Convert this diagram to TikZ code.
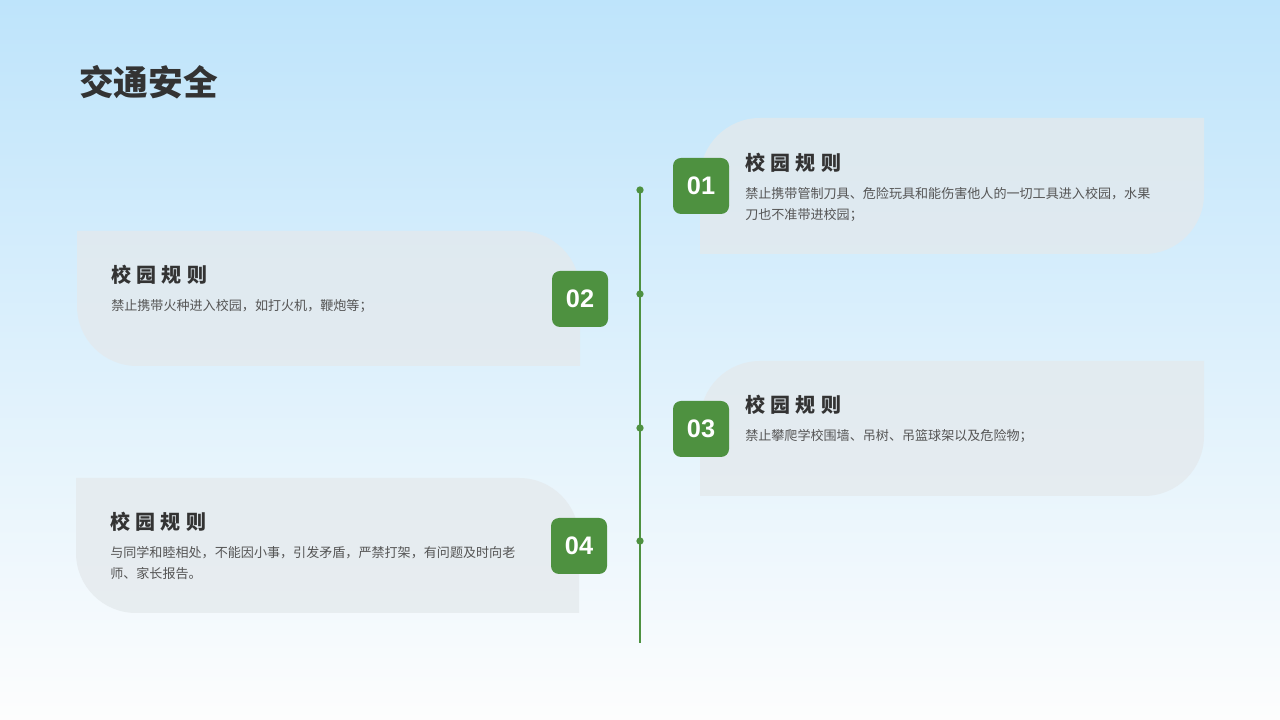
\documentclass[tikz,border=0pt]{standalone}
\usepackage{fontspec}
\setmainfont{Liberation Sans}
\newfontfamily\cjk{Noto Sans CJK SC}
\definecolor{gr}{HTML}{4E9140}
\definecolor{card}{HTML}{E4E9EC}
\definecolor{tx}{HTML}{333333}
\definecolor{bd}{HTML}{555555}
\tikzset{
 cardfill/.style={fill=card,fill opacity=0.75},
 badge/.style={fill=gr,rounded corners=6pt,minimum width=42pt,minimum height=42pt,text=white,font=\bfseries\fontsize{19}{20}\selectfont,inner sep=0pt},
 head/.style={anchor=west,text=tx,font=\cjk\bfseries\fontsize{15}{18}\selectfont,inner sep=0pt},
 body/.style={anchor=north west,text=bd,align=left,font=\cjk\fontsize{9.8}{16}\selectfont,inner sep=0pt},
 dot/.style={circle,fill=gr,inner sep=0pt,minimum size=5.5pt}
}
\newcommand{\hd}{校\hspace{4pt}园\hspace{4pt}规\hspace{4pt}则}
\begin{document}
\begin{tikzpicture}[x=0.75pt,y=0.75pt]
\shade[top color={rgb,255:red,190;green,228;blue,251},bottom color={rgb,255:red,253;green,253;blue,253}] (0,0) rectangle (1280,720);
\useasboundingbox (0,0) rectangle (1280,720);
\node[anchor=west,text=tx,font=\cjk\bfseries\fontsize{26}{30}\selectfont,inner sep=0pt] (title) at (79,638) {交通安全};
% cards
\fill[cardfill] (700,466) -- (700,542) arc[start angle=180,end angle=90,radius=45pt] -- (1204,602) -- (1204,526) arc[start angle=0,end angle=-90,radius=45pt] -- cycle;
\fill[cardfill] (77,489) -- (520,489) arc[start angle=90,end angle=0,radius=45pt] -- (580,354) -- (137,354) arc[start angle=270,end angle=180,radius=45pt] -- cycle;
\fill[cardfill] (700,224) -- (700,299) arc[start angle=180,end angle=90,radius=45pt] -- (1204,359) -- (1204,284) arc[start angle=0,end angle=-90,radius=45pt] -- cycle;
\fill[cardfill] (76,242) -- (519,242) arc[start angle=90,end angle=0,radius=45pt] -- (579,107) -- (136,107) arc[start angle=270,end angle=180,radius=45pt] -- cycle;
% timeline
\coordinate (top) at (640,530);
\coordinate (bot) at (640,77);
\draw[gr,line width=2.2pt] (top) -- (bot);
\node[dot] (d1) at (640,530) {};
\node[dot] (d2) at (640,426) {};
\node[dot] (d3) at (640,292) {};
\node[dot] (d4) at (640,179) {};
% badges
\node[badge] (b1) at (701,534) {01};
\node[badge] (b2) at (580,421) {02};
\node[badge] (b3) at (701,291) {03};
\node[badge] (b4) at (579,174) {04};
% texts
\node[head] (h1) at (745,557) {\hd};
\node[body] (t1) at (745,533) {禁止携带管制刀具、危险玩具和能伤害他人的一切工具进入校园，水果\\刀也不准带进校园；};
\node[head] (h2) at (111,445) {\hd};
\node[body] (t2) at (111,421) {禁止携带火种进入校园，如打火机，鞭炮等；};
\node[head] (h3) at (745,315) {\hd};
\node[body] (t3) at (745,291) {禁止攀爬学校围墙、吊树、吊篮球架以及危险物；};
\node[head] (h4) at (110,198) {\hd};
\node[body] (t4) at (110,174) {与同学和睦相处，不能因小事，引发矛盾，严禁打架，有问题及时向老\\师、家长报告。};
\end{tikzpicture}
\end{document}
